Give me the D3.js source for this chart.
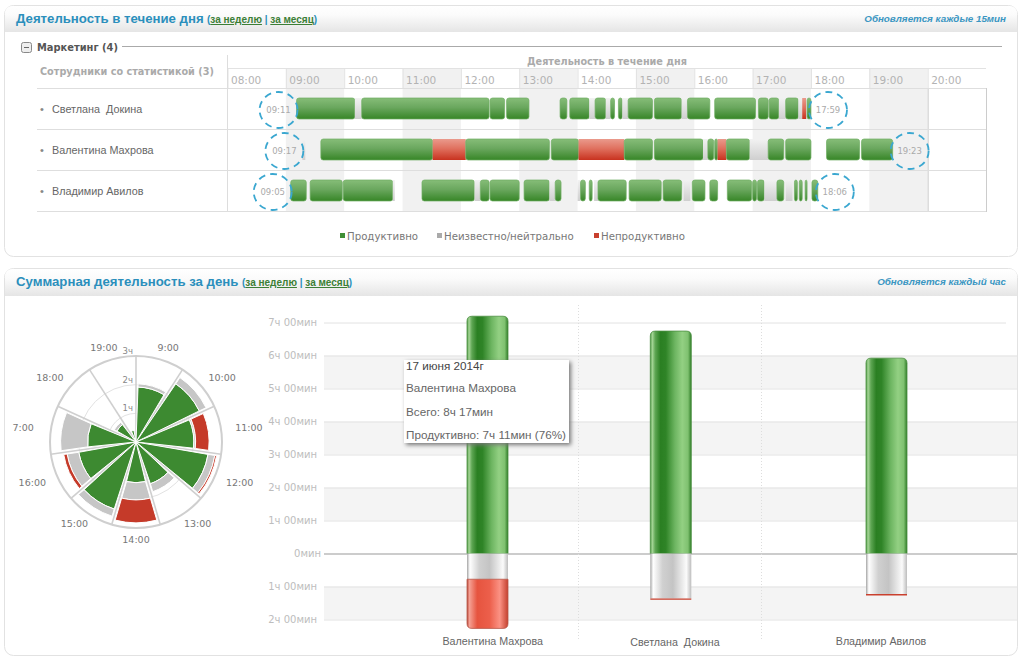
<!DOCTYPE html>
<html>
<head>
<meta charset="utf-8">
<script src="https://cdn.jsdelivr.net/npm/d3@7"></script>
<style>
body{margin:0;background:#fff}
svg{display:block}
text{font-family:"Liberation Sans",Arial,sans-serif}
.dj{font-family:"DejaVu Sans",Verdana,sans-serif}
</style>
</head>
<body>
<script>
//timeline data, minutes from midnight, p=productive n=neutral u=unproductive
var hourLabels=["08:00","09:00","10:00","11:00","12:00","13:00","14:00","15:00","16:00","17:00","18:00","19:00","20:00"];
var hourMinutes=[480,540,600,660,720,780,840,900,960,1020,1080,1140,1200];
var people=["Светлана  Докина","Валентина Махрова","Владимир Авилов"];
var startLabels=["09:11","09:17","09:05"];
var endLabels=["17:59","19:23","18:06"];
var startMinutes=[551,557,545];
var endMinutes=[1079,1163,1086];
var segDokina=[[551,611,"p"],[611,618,"n"],[618,749,"p"],[750,765,"p"],[767,790,"p"],[822,829,"p"],[832,852,"p"],[852,858,"n"],[858,869,"p"],[869,874,"n"],[874,878,"p"],[882,886,"p"],[886,892,"n"],[892,917,"p"],[919,947,"p"],[947,953,"n"],[953,976,"p"],[981,1023,"p"],[1026,1036,"p"],[1037,1047,"p"],[1047,1054,"n"],[1054,1067,"p"],[1067,1071,"n"],[1071,1075,"u"],[1075,1076,"n"],[1076,1080,"p"]];
var segMakhrova=[[557,560,"n"],[576,691,"p"],[691,725,"u"],[725,811,"p"],[813,841,"p"],[841,888,"u"],[888,917,"p"],[919,969,"p"],[969,974,"n"],[974,980,"p"],[981,984,"p"],[984,993,"u"],[993,1017,"p"],[1017,1036,"n"],[1036,1052,"p"],[1054,1080,"p"],[1096,1130,"p"],[1132,1164,"p"]];
var segAvilov=[[545,561,"p"],[565,598,"p"],[599,650,"p"],[650,652,"n"],[680,734,"p"],[734,740,"n"],[740,749,"p"],[750,780,"p"],[785,811,"p"],[811,817,"n"],[817,823,"p"],[840,843,"n"],[843,848,"p"],[852,855,"p"],[857,861,"n"],[861,890,"p"],[893,926,"p"],[928,947,"p"],[949,956,"n"],[958,971,"p"],[976,984,"p"],[994,1019,"p"],[1020,1024,"p"],[1025,1032,"p"],[1032,1045,"n"],[1045,1052,"p"],[1054,1061,"n"],[1063,1066,"p"],[1068,1071,"p"],[1074,1076,"p"],[1081,1087,"p"]];
var legendLabels=["Продуктивно","Неизвестно/нейтрально","Непродуктивно"];
//polar data, hours
var sectorLabels=["9:00","10:00","11:00","12:00","13:00","14:00","15:00","16:00","7:00","18:00","19:00"];
var sectorProductive=[1.92,2.46,2.02,2.55,1.54,1.42,2.46,2.03,1.69,0.77,0.41];
var sectorNeutral=[0.11,0.26,0.06,0.24,0.29,0.60,0.26,0.41,0.94,0.10,0];
var sectorUnproductive=[0,0,0.47,0.06,0,0.80,0,0.12,0,0,0];
var ringHours=[1,2,3];
var ringLabels=["1ч","2ч","3ч"];
//bar data, hours
var barNames=["Валентина Махрова","Светлана  Докина","Владимир Авилов"];
var barProductive=[7.19,6.74,5.92];
var barNeutral=[0.78,1.36,1.23];
var barUnproductive=[1.49,0.04,0.04];
var axisValues=[7,6,5,4,3,2,1,0,-1,-2];
var axisLabels=["7ч 00мин","6ч 00мин","5ч 00мин","4ч 00мин","3ч 00мин","2ч 00мин","1ч 00мин","0мин","1ч 00мин","2ч 00мин"];
var tooltipLines=["17 июня 2014г","Валентина Махрова","Всего: 8ч 17мин","Продуктивно: 7ч 11мин (76%)"];

var w=1024,h=663;
var svg=d3.select("body").append("svg").attr("width",w).attr("height",h);
var defs=svg.append("defs");

function gradient(id,x2,y2,stops)
{
    var g=defs.append("linearGradient").attr("id",id)
    .attr("x1",0).attr("y1",0).attr("x2",x2).attr("y2",y2);
    stops.forEach(function(s){
        g.append("stop").attr("offset",s[0]).attr("stop-color",s[1]);
    });
}
gradient("head",0,1,[[0,"#ffffff"],[0.35,"#fbfbfb"],[1,"#e5e5e5"]]);
gradient("segp",0,1,[[0,"#86bd78"],[0.45,"#6aa75e"],[1,"#378627"]]);
gradient("segu",0,1,[[0,"#ea9a8c"],[0.45,"#e0715f"],[1,"#c8321f"]]);
gradient("segn",0,1,[[0,"#f2f2f2"],[1,"#cfcfcf"]]);
gradient("barp",1,0,[[0,"#4f9a45"],[0.05,"#a5d596"],[0.12,"#5ea653"],[0.25,"#2a7f22"],[0.38,"#2f8427"],[0.6,"#6db561"],[0.78,"#93d083"],[0.92,"#7fc170"],[1,"#2f7c27"]]);
gradient("barn",1,0,[[0,"#a5a5a5"],[0.07,"#ffffff"],[0.3,"#d0d0d0"],[0.55,"#c4c4c4"],[0.88,"#fbfbfb"],[1,"#bdbdbd"]]);
gradient("baru",1,0,[[0,"#b9483a"],[0.06,"#f5a093"],[0.25,"#e6543f"],[0.55,"#ec5f4b"],[0.8,"#fb9284"],[1,"#c4402e"]]);

//panels
function panel(y,height,headH,title,titleSize,titleW,links,note)
{
    svg.append("rect").attr("x",4.5).attr("y",y+0.5).attr("width",1013).attr("height",height)
    .attr("rx",9).attr("fill","#fff").attr("stroke","#e2e2e2");
    svg.append("path").attr("fill","url(#head)")
    .attr("d","M5,"+(y+headH)+"V"+(y+9)+"Q5,"+(y+1)+" 13,"+(y+1)+"H1009Q1017,"+(y+1)+" 1017,"+(y+9)+"V"+(y+headH)+"Z");
    svg.append("text").attr("x",16).attr("y",y+18).attr("fill","#2b8fbc")
    .style("font-size",titleSize+"px").style("font-weight","bold").text(title);
    var t=svg.append("text").attr("x",16+titleW+4).attr("y",y+18).style("font-size","10px")
    .style("font-weight","bold").attr("fill","#3c7f36");
    t.append("tspan").text("(").attr("fill","#2b8fbc");
    t.append("tspan").text(links[0]).style("text-decoration","underline");
    t.append("tspan").text(" | ").attr("fill","#2b8fbc");
    t.append("tspan").text(links[1]).style("text-decoration","underline");
    t.append("tspan").text(")").attr("fill","#2b8fbc");
    svg.append("text").attr("x",1006).attr("y",y+17).attr("text-anchor","end")
    .attr("fill","#3a96c2").style("font-size","9.8px").style("font-weight","bold").style("font-style","italic").text(note);
}
panel(5,251,27,"Деятельность в течение дня",13.2,187,["за неделю","за месяц"],"Обновляется каждые 15мин");
panel(268,387,28,"Суммарная деятельность за день",13.2,222,["за неделю","за месяц"],"Обновляется каждый час");

//timeline
var x=d3.scaleLinear().domain([480,1260]).range([227.5,986]);
var rowY=d3.scaleBand().domain(people).range([88,211]);
var rowsData=[segDokina,segMakhrova,segAvilov];

//section header
svg.append("rect").attr("x",21.5).attr("y",42.5).attr("width",10).attr("height",10).attr("rx",2)
.attr("fill","#eee").attr("stroke","#888");
svg.append("line").attr("x1",24).attr("x2",29).attr("y1",47.5).attr("y2",47.5).attr("stroke","#666");
svg.append("text").attr("class","dj").attr("x",37).attr("y",51).attr("fill","#555")
.style("font-size","9.9px").style("font-weight","bold").text("Маркетинг (4)");
svg.append("line").attr("x1",122).attr("x2",1002).attr("y1",46.5).attr("y2",46.5).attr("stroke","#aaa");
svg.append("text").attr("class","dj").attr("x",40).attr("y",75).attr("fill","#aaa")
.style("font-size","9.7px").style("font-weight","bold").text("Сотрудники со статистикой (3)");
svg.append("text").attr("class","dj").attr("x",607).attr("y",65).attr("text-anchor","middle").attr("fill","#aaa")
.style("font-size","9.7px").style("font-weight","bold").text("Деятельность в течение дня");

//shaded hours
svg.selectAll(".hourband").data(hourMinutes.filter(function(d,i){return i%2==1;})).enter().append("rect")
.attr("x",function(d){return x(d);}).attr("y",68.5)
.attr("width",function(d){return x(d+60)-x(d);}).attr("height",143)
.attr("fill","#f1f1f1");

var hourAxis=d3.axisTop(x).tickValues(hourMinutes).tickSize(20)
.tickFormat(function(d,i){return hourLabels[i];});
var ha=svg.append("g").attr("transform","translate(0,88.5)").call(hourAxis);
ha.select(".domain").remove();
ha.selectAll(".tick line").attr("stroke","#e2e2e2");
ha.selectAll(".tick text").attr("class","dj").attr("text-anchor","start").attr("x",3).attr("y",-5)
.attr("fill","#b3b3b3").style("font-size","10.5px");

svg.append("line").attr("x1",228).attr("x2",986).attr("y1",68.5).attr("y2",68.5).attr("stroke","#e2e2e2");
svg.append("line").attr("x1",227.5).attr("x2",227.5).attr("y1",55).attr("y2",212).attr("stroke","#ddd");
svg.append("rect").attr("x",x(1200)+0.5).attr("y",88.5).attr("width",x(1260)-x(1200)).attr("height",123)
.attr("fill","#fff").attr("stroke","#ccc");

//row lines
svg.selectAll(".rowline").data([88,129,170,211]).enter().append("line")
.attr("x1",37).attr("x2",986).attr("y1",function(d){return d+0.5;}).attr("y2",function(d){return d+0.5;})
.attr("stroke","#dedede");

var rows=svg.selectAll(".row").data(people).enter().append("g").attr("class","row");
rows.append("text").attr("x",40).attr("y",function(d){return rowY(d)+25;}).attr("fill","#888").style("font-size","11px").text("•");
rows.append("text").attr("x",52).attr("y",function(d){return rowY(d)+25;}).attr("fill","#666")
.style("font-size","10.8px").style("white-space","pre").text(function(d){return d;});

//segments
rows.each(function(name,i){
    d3.select(this).selectAll(".seg").data(rowsData[i]).enter().append("rect")
    .attr("x",function(d){return x(d[0]);})
    .attr("y",rowY(name)+10)
    .attr("width",function(d){return x(d[1])-x(d[0]);})
    .attr("height",21)
    .attr("rx",function(d){return d[2]=="p"?2.5:0;})
    .attr("fill",function(d){return "url(#seg"+d[2]+")";})
    .attr("stroke",function(d){return d[2]=="p"?"#6fae62":"none";})
    .attr("stroke-width",0.7);
});

//start and end markers
function marker(minutes,labels,offset)
{
    var m=svg.selectAll(".mk"+offset).data(people).enter().append("g");
    m.append("ellipse")
    .attr("cx",function(d,i){return x(minutes[i])+offset;})
    .attr("cy",function(d){return rowY(d)+22;})
    .attr("rx",19).attr("ry",18).attr("fill","none")
    .attr("stroke","#3aa7d0").attr("stroke-width",1.8).attr("stroke-dasharray","7 5");
    m.append("text").attr("class","dj")
    .attr("x",function(d,i){return x(minutes[i])+offset;})
    .attr("y",function(d){return rowY(d)+25;})
    .attr("text-anchor","middle").attr("fill","#aaa").style("font-size","8.5px")
    .text(function(d,i){return labels[i];});
}
marker(startMinutes,startLabels,-18);
marker(endMinutes,endLabels,18);

//legend
var legendColors=["#3f8f35","#aaaaaa","#c8402e"];
var legendX=[340,437,594];
svg.selectAll(".leg").data(legendLabels).enter().append("rect")
.attr("x",function(d,i){return legendX[i];}).attr("y",233).attr("width",5).attr("height",5)
.attr("fill",function(d,i){return legendColors[i];});
svg.selectAll(".legt").data(legendLabels).enter().append("text").attr("class","dj")
.attr("x",function(d,i){return legendX[i]+7;}).attr("y",239.5).attr("fill","#777").style("font-size","10.2px")
.text(function(d){return d;});

//polar chart
var cx=136,cy=442;
var r=d3.scaleLinear().domain([0,3]).range([0,86]);
var polar=svg.append("g").attr("transform","translate("+cx+","+cy+")");
var step=2*Math.PI/sectorLabels.length;
polar.selectAll(".ring").data(ringHours).enter().append("circle")
.attr("r",function(d){return r(d);}).attr("fill","none")
.attr("stroke",function(d){return d==3?"#cfcfcf":"#e2e2e2";})
.attr("stroke-width",function(d){return d==3?2:1;});
polar.selectAll(".spoke").data(sectorLabels).enter().append("line")
.attr("x1",0).attr("y1",0)
.attr("x2",function(d,i){return r(3)*Math.sin(i*step);})
.attr("y2",function(d,i){return -r(3)*Math.cos(i*step);})
.attr("stroke","#cfcfcf").attr("stroke-width",1.6);

var arc=d3.arc().padAngle(0.09).padRadius(45);
var wedges=[];
sectorLabels.forEach(function(label,i){
    var a=sectorProductive[i],b=a+sectorNeutral[i],c=b+sectorUnproductive[i];
    var s={startAngle:i*step,endAngle:(i+1)*step};
    wedges.push(Object.assign({inner:0,outer:a,col:"#3d8a31"},s));
    if(sectorNeutral[i]>0)wedges.push(Object.assign({inner:a,outer:b,col:"#c6c6c6"},s));
    if(sectorUnproductive[i]>0)wedges.push(Object.assign({inner:b,outer:c,col:"#c53a29"},s));
});
polar.selectAll(".wedge").data(wedges).enter().append("path")
.attr("d",function(d){
    return arc({innerRadius:r(d.inner),outerRadius:r(d.outer),startAngle:d.startAngle,endAngle:d.endAngle});
})
.attr("fill",function(d){return d.col;})
.attr("stroke","#fff").attr("stroke-width",1);

polar.selectAll(".slabel").data(sectorLabels).enter().append("text").attr("class","dj")
.attr("x",function(d,i){return 114*Math.sin((i+0.5)*step);})
.attr("y",function(d,i){return -98*Math.cos((i+0.5)*step)+3;})
.attr("text-anchor","middle").attr("fill","#777").style("font-size","9.5px")
.text(function(d){return d;});
polar.selectAll(".rlabel").data(ringHours).enter().append("text").attr("class","dj")
.attr("x",-3).attr("y",function(d){return -r(d)-2;}).attr("text-anchor","end")
.attr("fill","#888").style("font-size","8.5px").text(function(d,i){return ringLabels[i];});

//bar chart
var y=d3.scaleLinear().domain([0,7]).range([553.5,322.5]);
var bx=d3.scaleOrdinal().domain(barNames).range([487.5,670.8,886.5]);
var labelX=d3.scaleOrdinal().domain(barNames).range([492.7,675,881]);
var plotL=324,plotR=1017;

//stripes
svg.selectAll(".stripe").data([6,4,2,-1]).enter().append("rect")
.attr("x",plotL).attr("width",plotR-plotL)
.attr("y",function(d){return y(d);})
.attr("height",function(d){return y(d-1)-y(d);})
.attr("fill","#f4f4f4");

var barAxis=d3.axisLeft(y).tickValues(axisValues).tickSize(plotL-plotR).tickPadding(7)
.tickFormat(function(d,i){return axisLabels[i];});
var ba=svg.append("g").attr("transform","translate("+plotL+",0)").call(barAxis);
ba.select(".domain").remove();
ba.selectAll(".tick line").attr("stroke",function(d){return d==0?"#bbb":"#e2e2e2";})
.attr("stroke-width",function(d){return d==0?1.4:1;})
.attr("x2",function(d){return d==7?682:plotR-plotL;});
ba.selectAll(".tick text").attr("class","dj").attr("fill","#bdbdbd").style("font-size","10px")
.attr("x",function(d){return d==0?-3:-7;});

svg.selectAll(".sep").data([578.5,761.5]).enter().append("line")
.attr("x1",function(d){return d;}).attr("x2",function(d){return d;})
.attr("y1",305).attr("y2",640).attr("stroke","#ddd").attr("stroke-dasharray","1 2");

function barPath(cxx,y0,y1,wd,rTop,rBot)
{
    var p=d3.path(),l=cxx-wd/2,rr=cxx+wd/2;
    p.moveTo(l,y1-rBot);
    p.lineTo(l,y0+rTop);
    if(rTop)p.quadraticCurveTo(l,y0,l+rTop,y0);
    p.lineTo(rr-rTop,y0);
    if(rTop)p.quadraticCurveTo(rr,y0,rr,y0+rTop);
    p.lineTo(rr,y1-rBot);
    if(rBot)p.quadraticCurveTo(rr,y1,rr-rBot,y1);
    p.lineTo(l+rBot,y1);
    if(rBot)p.quadraticCurveTo(l,y1,l,y1-rBot);
    p.closePath();
    return p.toString();
}
var bars=svg.selectAll(".bar").data(barNames).enter().append("g").attr("class","bar");
bars.append("path").attr("fill","url(#barp)").attr("stroke","#4c8f42").attr("stroke-width",0.8)
.attr("d",function(d,i){return barPath(bx(d),y(barProductive[i]),y(0),41,5,0);});
bars.append("path").attr("fill","url(#barn)")
.attr("d",function(d,i){return barPath(bx(d),y(0),y(-barNeutral[i]),41,0,0);});
bars.append("path").attr("fill",function(d,i){return i==0?"url(#baru)":"#c9402e";})
.attr("stroke",function(d,i){return i==0?"#b5584a":"none";}).attr("stroke-width",0.8)
.attr("d",function(d,i){
    var a=y(-barNeutral[i]),b=y(-barNeutral[i]-barUnproductive[i]);
    return barPath(bx(d),a,b,41,0,i==0?5:0);
});
bars.append("text").attr("x",function(d){return labelX(d);}).attr("y",function(d,i){return i==1?646:645;})
.attr("text-anchor","middle").attr("fill","#666").style("font-size","10.7px").style("white-space","pre")
.text(function(d){return d;});

//tooltip
svg.append("rect").attr("x",404).attr("y",360).attr("width",165).attr("height",83)
.attr("fill","#fff").style("filter","drop-shadow(2px 2px 2px #777)");
var tipY=[370,392,416,439];
svg.selectAll(".tip").data(tooltipLines).enter().append("text")
.attr("x",406).attr("y",function(d,i){return tipY[i];})
.attr("fill",function(d,i){return i==0?"#444":"#666";}).style("font-size","11.7px")
.text(function(d){return d;});
</script>
</body>
</html>
